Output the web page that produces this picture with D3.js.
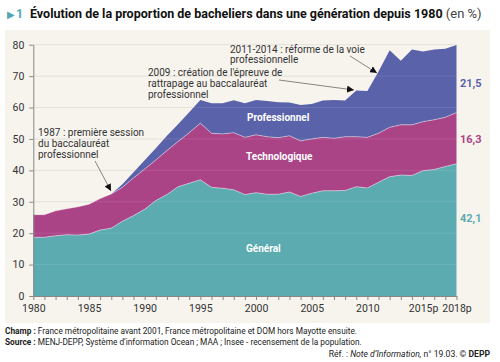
<!DOCTYPE html>
<html>
<head>
<meta charset="utf-8">
<script src="https://cdn.jsdelivr.net/npm/d3@7"></script>
<style>
  body { margin: 0; background: #fff; }
  svg { display: block; font-family: Roboto, "Noto Sans", sans-serif; }
</style>
</head>
<body>
<svg width="500" height="362"></svg>
<script>
// years 1980 -> 2018
const years = d3.range(1980, 2019);

const general = [18.7, 18.7, 19.2, 19.5, 19.4, 19.7, 21.0, 21.6, 23.8, 25.6,
  27.6, 30.4, 32.3, 34.8, 35.9, 37.0, 34.6, 34.3, 33.8, 32.3,
  32.9, 32.4, 32.4, 33.1, 31.7, 32.7, 33.5, 33.5, 33.6, 34.8,
  34.4, 36.2, 38.0, 38.5, 38.4, 39.9, 40.3, 41.2, 42.1];

const techno = [7.2, 7.2, 7.9, 8.3, 9.0, 9.5, 10.0, 10.9, 10.8, 12.0,
  12.8, 12.9, 14.0, 14.4, 16.1, 18.0, 17.2, 17.3, 18.2, 18.2,
  18.4, 18.3, 18.0, 17.9, 17.7, 17.3, 17.0, 16.7, 17.1, 15.9,
  16.1, 15.6, 15.7, 16.0, 16.1, 15.6, 15.8, 15.7, 16.3];

const pro = [0, 0, 0, 0, 0, 0, 0, 0, 1.0, 1.8,
  2.8, 3.7, 4.7, 5.5, 6.5, 7.4, 9.6, 9.8, 10.3, 10.9,
  11.1, 11.4, 11.3, 10.6, 11.4, 11.1, 11.7, 12.2, 11.5, 14.7,
  14.8, 19.7, 24.5, 20.4, 24.0, 22.3, 22.4, 21.8, 21.5];

const seriesNames = ["Général", "Technologique", "Professionnel"];
const seriesColors = ["#5babb0", "#ab4387", "#5a62a9"];
const lastLabels = ["42,1", "16,3", "21,5"];

const xLabelYears = [1980, 1985, 1990, 1995, 2000, 2005, 2010, 2015, 2018];
const xLabels = ["1980", "1985", "1990", "1995", "2000", "2005", "2010", "2015p", "2018p"];
const yTicks = [0, 10, 20, 30, 40, 50, 60, 70, 80];

const rows = years.map((yr, i) => ({
  year: yr, "Général": general[i], "Technologique": techno[i], "Professionnel": pro[i]
}));

const svg = d3.select("svg");

// beige panel
svg.append("rect")
  .attr("x", 5).attr("y", 30)
  .attr("width", 485).attr("height", 293)
  .attr("fill", "#f7f4ee");

// title
const title = svg.append("text").attr("x", 7).attr("y", 18);
title.append("tspan").attr("fill", "#4fa7b3").attr("font-size", "10px").text("▶");
title.append("tspan").attr("fill", "#4fa7b3").attr("font-weight", "bold").attr("font-size", "12.5px").attr("dx", 1).text("1");
const t2 = svg.append("text").attr("x", 30).attr("y", 18).attr("font-size", "12.5px").attr("fill", "#111");
t2.append("tspan").attr("font-weight", "bold").text("Évolution de la proportion de bacheliers dans une génération depuis 1980");
t2.append("tspan").attr("fill", "#444").attr("font-size", "13px").text(" (en %)");

const x = d3.scaleLinear().domain([1980, 2018]).range([33.3, 456.5]);
const y = d3.scaleLinear().domain([0, 80]).range([296, 44.7]);

// gridlines behind
svg.append("g").selectAll("line")
  .data(yTicks.slice(1))
  .enter().append("line")
  .attr("x1", x(1980)).attr("x2", x(2018))
  .attr("y1", d => y(d)).attr("y2", d => y(d))
  .attr("stroke", "#e2dfd9").attr("stroke-width", 1);

const stack = d3.stack().keys(seriesNames);
const stacked = stack(rows);

const area = d3.area()
  .x(d => x(d.data.year))
  .y0(d => y(d[0]))
  .y1(d => y(d[1]));

const topLine = d3.line()
  .x(d => x(d.data.year))
  .y(d => y(d[1]));

svg.append("g").selectAll("path")
  .data(stacked)
  .enter().append("path")
  .attr("d", area)
  .attr("fill", (d, i) => seriesColors[i]);

svg.append("g").selectAll("path")
  .data(stacked.slice(0, 2))
  .enter().append("path")
  .attr("d", topLine)
  .attr("fill", "none")
  .attr("stroke", "#fff")
  .attr("stroke-opacity", 0.55)
  .attr("stroke-width", 0.8);

// gridlines on top of the areas
svg.append("g").selectAll("line")
  .data(yTicks.slice(1))
  .enter().append("line")
  .attr("x1", x(1980)).attr("x2", x(2018))
  .attr("y1", d => y(d)).attr("y2", d => y(d))
  .attr("stroke", "#fff").attr("stroke-opacity", 0.1).attr("stroke-width", 1);

// axes
const xAxis = d3.axisBottom(x)
  .tickValues(years)
  .tickSize(4)
  .tickSizeOuter(0)
  .tickFormat(d => {
    const k = xLabelYears.indexOf(d);
    return k >= 0 ? xLabels[k] : "";
  });

const gx = svg.append("g").attr("transform", "translate(0," + y(0) + ")").call(xAxis);
gx.select(".domain").attr("stroke", "#888");
gx.selectAll(".tick line").attr("stroke", "#888");
gx.selectAll(".tick text").attr("fill", "#333").attr("font-size", "10.5px").attr("dy", "0.9em")
  .attr("font-family", "Roboto, sans-serif");

const yAxis = d3.axisLeft(y).tickValues(yTicks).tickSize(4).tickSizeOuter(0).tickPadding(5);
const gy = svg.append("g").attr("transform", "translate(" + x(1980) + ",0)").call(yAxis);
gy.select(".domain").attr("stroke", "#888");
gy.selectAll(".tick line").attr("stroke", "#888");
gy.selectAll(".tick text").attr("fill", "#333").attr("font-size", "10.5px")
  .attr("font-family", "Roboto, sans-serif");

// series labels inside the areas
const inner = [
  { name: "Général", x: 246, y: 252 },
  { name: "Technologique", x: 246, y: 160 },
  { name: "Professionnel", x: 247, y: 121 }
];
svg.append("g").selectAll("text")
  .data(inner)
  .enter().append("text")
  .attr("x", d => d.x).attr("y", d => d.y)
  .attr("fill", "#fff").attr("font-weight", "bold").attr("font-size", "10px")
  .text(d => d.name);

// end values
svg.append("g").selectAll("text")
  .data(stacked)
  .enter().append("text")
  .attr("x", 460)
  .attr("y", (d, i) => [222, 143, 87][i])
  .attr("fill", (d, i) => seriesColors[i])
  .attr("font-weight", "bold")
  .attr("font-size", "11px")
  .text((d, i) => lastLabels[i]);

// annotations
svg.append("defs").append("marker")
  .attr("id", "arrow")
  .attr("viewBox", "0 0 10 10")
  .attr("refX", 10).attr("refY", 5)
  .attr("markerWidth", 7).attr("markerHeight", 7)
  .attr("markerUnits", "userSpaceOnUse")
  .attr("orient", "auto")
  .append("path").attr("d", "M0,0L10,5L0,10Z").attr("fill", "#111");

const notes = [
  { lines: ["1987 : première session", "du baccalauréat", "professionnel"], x: 38, y: 136, from: [95, 161], to: [111, 191] },
  { lines: ["2009 : création de l'épreuve de", "rattrapage au baccalauréat", "professionnel"], x: 148, y: 76, from: [279, 80], to: [354, 90] },
  { lines: ["2011-2014 : réforme de la voie", "professionnelle"], x: 230, y: 52.5, from: [350, 56], to: [377, 73] }
];

notes.forEach(n => {
  const t = svg.append("text").attr("x", n.x).attr("y", n.y)
    .attr("font-size", "10px").attr("fill", "#333");
  n.lines.forEach((l, i) => {
    t.append("tspan").attr("x", n.x).attr("dy", i === 0 ? 0 : 10.8).text(l);
  });
  svg.append("line")
    .attr("x1", n.from[0]).attr("y1", n.from[1])
    .attr("x2", n.to[0]).attr("y2", n.to[1])
    .attr("stroke", "#555").attr("stroke-width", 0.7)
    .attr("marker-end", "url(#arrow)");
});

// footnotes
const f1 = svg.append("text").attr("x", 5).attr("y", 334).attr("font-size", "8.3px").attr("fill", "#222");
f1.append("tspan").attr("font-weight", "bold").text("Champ :");
f1.append("tspan").text(" France métropolitaine avant 2001, France métropolitaine et DOM hors Mayotte ensuite.");

const f2 = svg.append("text").attr("x", 5).attr("y", 345).attr("font-size", "8.3px").attr("fill", "#222");
f2.append("tspan").attr("font-weight", "bold").text("Source :");
f2.append("tspan").text(" MENJ-DEPP, Système d’information Ocean ; MAA ; Insee - recensement de la population.");

const f3 = svg.append("text").attr("x", 490).attr("y", 357).attr("font-size", "8.6px").attr("fill", "#222")
  .attr("text-anchor", "end");
f3.append("tspan").text("Réf. : ");
f3.append("tspan").attr("font-style", "italic").text("Note d’Information,");
f3.append("tspan").text(" n° 19.03. © ");
f3.append("tspan").attr("font-weight", "bold").text("DEPP");
</script>
</body>
</html>
